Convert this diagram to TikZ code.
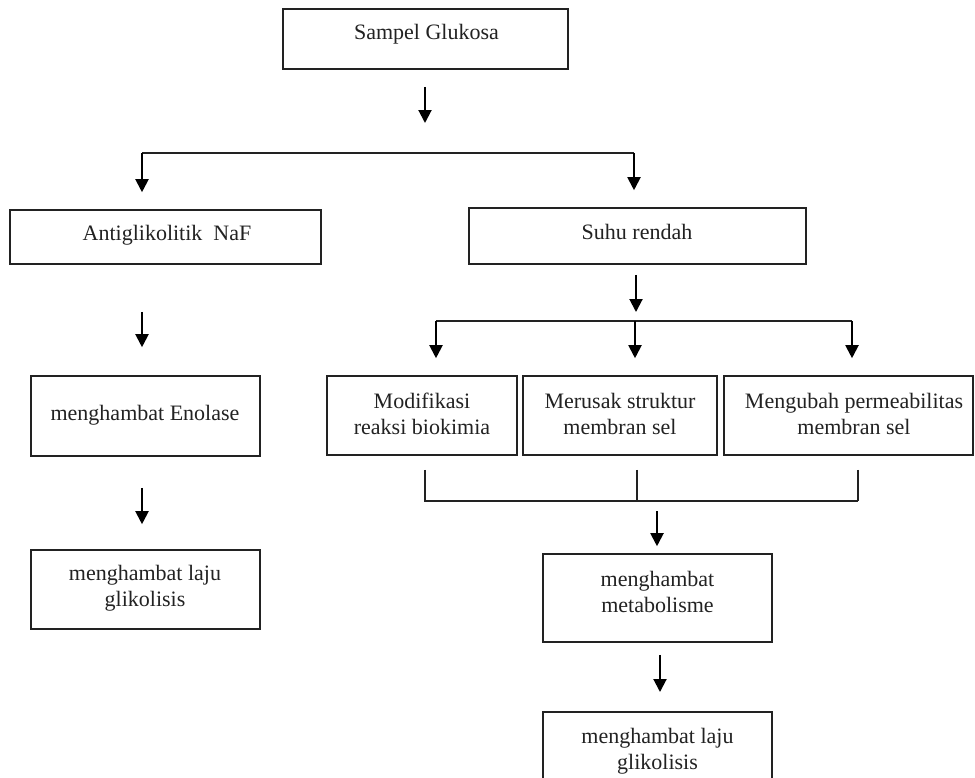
\documentclass[tikz,border=0pt]{standalone}
\usepackage{fontspec}
\setmainfont{Liberation Serif}
\usetikzlibrary{arrows.meta}
\definecolor{ink}{HTML}{222222}
\tikzset{
  box/.style={draw=ink, line width=1.6pt, rectangle, inner sep=0pt},
  txt/.style={font=\fontsize{22}{26}\selectfont, text=ink, inner sep=0pt, align=center},
  arr/.style={draw=black, line width=2pt, -{Triangle[length=13pt,width=13pt]}},
  lin/.style={draw=ink, line width=1.6pt},
  thin/.style={draw=ink, line width=1.3pt}
}
\begin{document}
\begin{tikzpicture}[x=1pt,y=-1pt]
\useasboundingbox (0,0) rectangle (975,777);
\clip (0,0) rectangle (975,777);
\fill[white] (0,0) rectangle (975,777);

% boxes
\node[box, minimum width=285pt, minimum height=60pt] (sg) at (425.5,39) {};
\node[box, minimum width=311pt, minimum height=54pt] (naf) at (165.5,237) {};
\node[box, minimum width=337pt, minimum height=56pt] (sr) at (637.5,236) {};
\node[box, minimum width=229pt, minimum height=80pt] (eno) at (145.5,416) {};
\node[box, minimum width=229pt, minimum height=79pt] (lg1) at (145.5,589.5) {};
\node[box, minimum width=190pt, minimum height=79pt] (b1) at (422,415.5) {};
\node[box, minimum width=194pt, minimum height=79pt] (b2) at (620,415.5) {};
\node[box, minimum width=249pt, minimum height=79pt] (b3) at (848.5,415.5) {};
\node[box, minimum width=229pt, minimum height=88pt] (met) at (657.5,598) {};
\node[box, minimum width=229pt, minimum height=96pt] (lg2) at (657.5,760) {};

% texts
\node[txt, anchor=base] (tsg) at (426.5,39) {Sampel Glukosa};
\node[txt, anchor=base] (tnaf) at (167,240) {Antiglikolitik\ \ NaF};
\node[txt, anchor=base] (tsr) at (637,239) {Suhu rendah};
\node[txt, anchor=base] (teno) at (145,420) {menghambat Enolase};
\node[txt] (tlg1) at (145,588.5) {menghambat laju\\glikolisis};
\node[txt] (tb1) at (422,414) {Modifikasi\\reaksi biokimia};
\node[txt] (tb2) at (620,414) {Merusak struktur\\membran sel};
\node[txt] (tb3) at (854,414) {Mengubah permeabilitas\\membran sel};
\node[txt] (tmet) at (657.5,592) {menghambat\\metabolisme};
\node[txt] (tlg2) at (657.5,751) {menghambat laju\\glikolisis};

% junction coordinates
\coordinate (j1) at (425,153);
\coordinate (j1l) at (142,153);
\coordinate (j1r) at (634,153);
\coordinate (j2) at (636,321);
\coordinate (j2l) at (436,321);
\coordinate (j2m) at (635,321);
\coordinate (j2r) at (852,321);
\coordinate (k1) at (425,501);
\coordinate (k2) at (637,501);
\coordinate (k3) at (858,501);
\coordinate (k2m) at (657,501);
\coordinate (m2) at (660,712);

% top split
\draw[arr, shorten <=17pt, shorten >=30pt] (sg.south -| j1) -- (j1);
\draw[lin] (j1r) -- (j1l);
\draw[arr, shorten >=17pt] (j1l) -- (j1l |- naf.north);
\draw[arr, shorten >=17pt] (j1r) -- (j1r |- sr.north);

% left chain
\draw[arr, shorten <=47pt, shorten >=28pt] (naf.south -| j1l) -- (j1l |- eno.north);
\draw[arr, shorten <=31pt, shorten >=25pt] (eno.south -| j1l) -- (j1l |- lg1.north);

% right split
\draw[arr, shorten <=10pt, shorten >=9pt] (sr.south -| j2) -- (j2);
\draw[lin] (j2l) -- (j2r);
\draw[arr, shorten >=17pt] (j2l) -- (j2l |- b1.north);
\draw[arr, shorten >=17pt] (j2m) -- (j2m |- b2.north);
\draw[arr, shorten >=17pt] (j2r) -- (j2r |- b3.north);

% bracket
\draw[thin, shorten <=14pt] (b1.south -| k1) -- (k1) -- (k3);
\draw[thin, shorten <=14pt] (b2.south -| k2) -- (k2);
\draw[thin, shorten <=14pt] (b3.south -| k3) -- (k3);

% lower chain
\draw[arr, shorten <=10pt, shorten >=7pt] (k2m) -- (k2m |- met.north);
\draw[arr, shorten <=12pt, shorten >=20pt] (met.south -| m2) -- (m2);
\end{tikzpicture}
\end{document}
